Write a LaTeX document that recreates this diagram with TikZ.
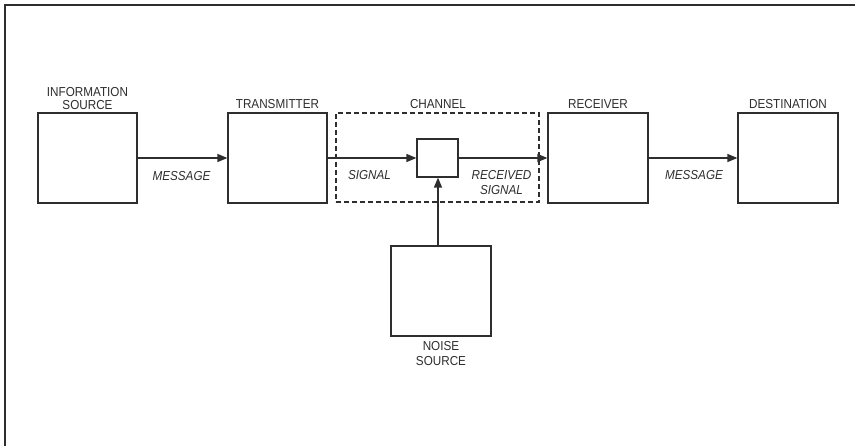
\documentclass[tikz,border=0pt]{standalone}
\usepackage{fontspec}
\setmainfont{Liberation Sans}[FakeStretch=0.9]
\usetikzlibrary{arrows.meta,calc}
\definecolor{ink}{HTML}{2E2E2E}
\begin{document}
\begin{tikzpicture}[x=1pt,y=-1pt,
  every node/.style={text=ink},
  blk/.style={draw=ink,line width=1.2pt,minimum width=99pt,minimum height=90pt,inner sep=0pt},
  smallblk/.style={draw=ink,line width=1.2pt,minimum width=41pt,minimum height=38pt,inner sep=0pt},
  lbl/.style={font=\fontsize{13}{12.7}\selectfont,inner sep=0pt,align=center},
  ilbl/.style={font=\fontsize{13}{15}\selectfont\itshape,inner sep=0pt,align=center},
  conn/.style={draw=ink,line width=1.3pt,-{Triangle[length=10pt,width=8pt]}}]
\useasboundingbox (0,0) rectangle (855,446);
\fill[white] (0,0) rectangle (855,446);
\draw[ink,line width=1.3pt] (5,446) -- (5,5) -- (855,5);
% blocks
\node[blk] (info) at (87.5,158) {};
\node[blk] (trans) at (277.5,158) {};
\node[blk,minimum width=100pt] (recv) at (598,158) {};
\node[blk,minimum width=100pt] (dest) at (788,158) {};
\node[blk,minimum width=100pt] (noise) at (441,291) {};
\node[smallblk] (mix) at (437.5,158) {};
\node[draw=ink,line width=1.2pt,dash pattern=on 5pt off 3pt,minimum width=203pt,minimum height=89pt,inner sep=0pt] (chan) at (437.5,157.5) {};
% labels
\node[lbl] (infol) at (87.5,98.5) {INFORMATION\\SOURCE};
\node[lbl] (transl) at (277.5,104) {TRANSMITTER};
\node[lbl] (chanl) at (438,104) {CHANNEL};
\node[lbl] (recvl) at (598,104) {RECEIVER};
\node[lbl] (destl) at (788,104) {DESTINATION};
\node[lbl,font=\fontsize{13}{15}\selectfont] (noisel) at (441,353.5) {NOISE\\SOURCE};
\node[ilbl] (msg1) at (181.5,176) {MESSAGE};
\node[ilbl] (sig) at (369.5,175) {SIGNAL};
\node[ilbl] (rsig) at (501.5,182.5) {RECEIVED\\SIGNAL};
\node[ilbl] (msg2) at (694,175) {MESSAGE};
% connectors
\coordinate (mixin) at ($(mix.south)+(0.5,0)$);
\draw[conn] (info.east) -- (trans.west);
\draw[conn] (trans.east) -- (mix.west);
\draw[conn] (mix.east) -- (recv.west);
\draw[conn] (recv.east) -- (dest.west);
\draw[conn] (noise.north -| mixin) -- (mixin);
\end{tikzpicture}
\end{document}
